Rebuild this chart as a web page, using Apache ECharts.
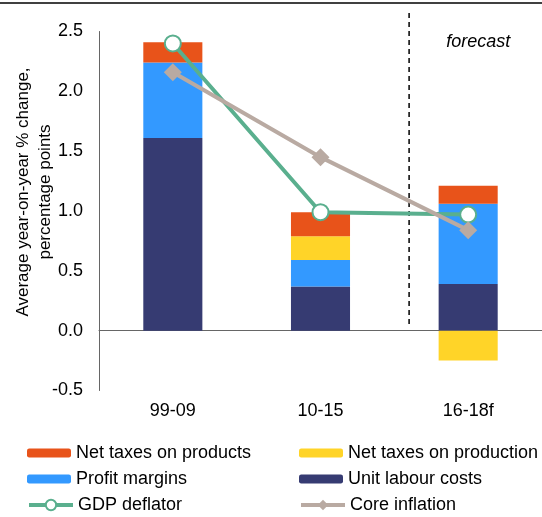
<!DOCTYPE html>
<html>
<head>
<meta charset="utf-8">
<script src="https://cdn.jsdelivr.net/npm/echarts@6/dist/echarts.min.js"></script>
<style>html,body{margin:0;padding:0;background:#fff}#c{width:542px;height:517px}</style>
</head>
<body>
<div id="c"></div>
<script>
const categories = ['99-09', '10-15', '16-18f'];
const unitLabourCosts = [1.61, 0.37, 0.39];
const profitMargins = [0.63, 0.22, 0.67];
const netTaxesProduction = [0, 0.20, -0.25];
const netTaxesProducts = [0.17, 0.20, 0.15];
const gdpDeflator = [2.40, 0.99, 0.97];
const coreInflation = [2.16, 1.45, 0.84];
const yTicks = { min: -0.5, max: 2.5, interval: 0.5 };

const FONT = 'Liberation Sans, Arial, sans-serif';
const chart = echarts.init(document.getElementById('c'));

const barSeries = (name, data, color) => ({
  name, type: 'bar', stack: 'total', data, barWidth: '40%',
  itemStyle: { color }, emphasis: { disabled: true }
});

const legendItem = (name, left, top, h) => ({
  left, top, itemWidth: 44, itemHeight: h || 9, itemGap: 0,
  lineStyle: { width: 4 },
  textStyle: { fontSize: 18, color: '#000', fontFamily: FONT },
  data: [name]
});

chart.setOption({
  animation: false,
  textStyle: { fontFamily: FONT },
  grid: { left: 99, top: 31.5, width: 448, height: 359, containLabel: false },
  xAxis: [
    { type: 'category', data: categories, position: 'bottom',
      axisLine: { show: false, onZero: false }, axisTick: { show: false },
      axisLabel: { color: '#000', fontSize: 18, fontFamily: FONT, margin: 12 } },
    { type: 'category', data: categories, position: 'bottom',
      axisLine: { show: true, onZero: true, lineStyle: { color: '#666', width: 1 } },
      axisTick: { show: false }, axisLabel: { show: false } }
  ],
  yAxis: {
    type: 'value', min: yTicks.min, max: yTicks.max, interval: yTicks.interval,
    axisLine: { show: true, lineStyle: { color: '#666', width: 1 } },
    axisTick: { show: false }, splitLine: { show: false },
    axisLabel: { color: '#000', fontSize: 18, fontFamily: FONT, margin: 16,
      formatter: v => v.toFixed(1) }
  },
  legend: [
    legendItem('Net taxes on products', 22, 439),
    legendItem('Net taxes on production', 294, 439),
    legendItem('Profit margins', 22, 465),
    legendItem('Unit labour costs', 294, 465),
    legendItem('GDP deflator', 22, 491, 13),
    legendItem('Core inflation', 294, 491, 13)
  ],
  series: [
    barSeries('Unit labour costs', unitLabourCosts, '#363B72'),
    barSeries('Profit margins', profitMargins, '#3399FF'),
    barSeries('Net taxes on production', netTaxesProduction, '#FFD428'),
    barSeries('Net taxes on products', netTaxesProducts, '#E8531A'),
    { name: 'GDP deflator', type: 'line', data: gdpDeflator,
      symbol: 'circle', symbolSize: 16, showAllSymbol: true,
      lineStyle: { color: '#5AAF8E', width: 4 },
      itemStyle: { color: '#fff', borderColor: '#5AAF8E', borderWidth: 2 },
      emphasis: { disabled: true }, z: 3 },
    { name: 'Core inflation', type: 'line', data: coreInflation,
      symbol: 'diamond', symbolSize: 18,
      lineStyle: { color: '#B9AAA2', width: 4 },
      itemStyle: { color: '#B9AAA2' },
      emphasis: { disabled: true }, z: 3 }
  ]
});

// Forecast divider and label, positioned from the axis scale
const xMid = chart.convertToPixel({ xAxisIndex: 0 }, categories[1]);
const xLast = chart.convertToPixel({ xAxisIndex: 0 }, categories[2]);
const xDiv = xMid + 0.6 * (xLast - xMid);
const yZero = chart.convertToPixel({ yAxisIndex: 0 }, 0);
chart.setOption({
  graphic: [
    { type: 'line', shape: { x1: 0, y1: 3, x2: 542, y2: 3 },
      style: { stroke: '#000', lineWidth: 1.5 }, silent: true },
    { type: 'line', shape: { x1: xDiv, y1: 13, x2: xDiv, y2: yZero - 4 },
      style: { stroke: '#000', lineWidth: 1.5, lineDash: [5, 4] }, silent: true },
    { type: 'text', x: xLast + 10, y: 42,
      style: { text: 'forecast', fontSize: 18, fontStyle: 'italic', fontFamily: FONT,
        fill: '#000', align: 'center', verticalAlign: 'middle' } },
    { type: 'text', x: 34, y: 192, rotation: Math.PI / 2,
      style: { text: 'Average year-on-year % change,\npercentage points', fontSize: 17,
        fontFamily: FONT, fill: '#000', align: 'center', verticalAlign: 'middle', lineHeight: 22 } }
  ]
});
</script>
</body>
</html>
